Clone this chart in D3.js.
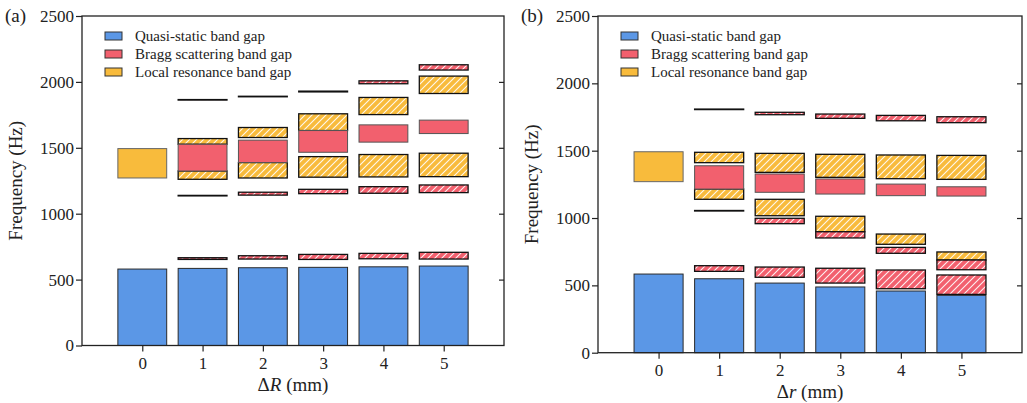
<!DOCTYPE html>
<html>
<head>
<meta charset="utf-8">
<script src="https://cdn.jsdelivr.net/npm/d3@7"></script>
<style>
  body { margin: 0; background: #fff; }
</style>
</head>
<body>
<svg id="chart" width="1027" height="403"></svg>
<script>
// ---- data (Hz) ----
const categories = [0, 1, 2, 3, 4, 5];
const yTicks = [0, 500, 1000, 1500, 2000, 2500];
const legendLabels = ['Quasi-static band gap', 'Bragg scattering band gap', 'Local resonance band gap'];

// panel (a): ΔR
const quasiA = [580, 585, 590, 593, 597, 603];
const braggA = [[1, 1324, 1527], [2, 1388, 1558], [3, 1466, 1631], [4, 1543, 1674], [5, 1608, 1710]];
const braggHatchA = [
  [1, 653, 666], [1, 1135, 1139], [1, 1862, 1866],
  [2, 656, 681], [2, 1141, 1163], [2, 1887, 1891],
  [3, 653, 691], [3, 1152, 1185], [3, 1924, 1930],
  [4, 658, 699], [4, 1155, 1205], [4, 1986, 2008],
  [5, 656, 707], [5, 1160, 1218], [5, 2090, 2130]
];
const localA = [[0, 1271, 1494]];
const localHatchA = [
  [1, 1261, 1324], [1, 1527, 1570],
  [2, 1271, 1388], [2, 1578, 1654],
  [3, 1277, 1433], [3, 1631, 1758],
  [4, 1279, 1449], [4, 1752, 1882],
  [5, 1281, 1459], [5, 1912, 2044]
];

// panel (b): Δr
const quasiB = [584, 549, 517, 488, 458, 426];
const braggB = [[1, 1215, 1388], [2, 1191, 1327], [3, 1178, 1290], [4, 1166, 1252], [5, 1163, 1232]];
const braggHatchB = [
  [1, 604, 646], [1, 1052, 1056], [1, 1805, 1809],
  [2, 560, 636], [2, 958, 998], [2, 1767, 1785],
  [3, 517, 627], [3, 852, 898], [3, 1740, 1772],
  [4, 475, 614], [4, 738, 782], [4, 1722, 1762],
  [5, 433, 577], [5, 616, 688], [5, 1708, 1752]
];
const localB = [[0, 1270, 1492]];
const localHatchB = [
  [1, 1139, 1215], [1, 1411, 1488],
  [2, 1017, 1139], [2, 1339, 1480],
  [3, 898, 1013], [3, 1302, 1473],
  [4, 805, 881], [4, 1292, 1468],
  [5, 688, 748], [5, 1287, 1465]
];

const BLUE = '#5b97e6', RED = '#f2606e', YELLOW = '#f8bb3c';
const FONT = '"Liberation Serif", "DejaVu Serif", "Times New Roman", serif';

const svg = d3.select('#chart');
const defs = svg.append('defs');

// white diagonal hatch over a fill colour
[['hatch-red', RED], ['hatch-yellow', YELLOW]].forEach(([id, col]) => {
  const p = defs.append('pattern')
    .attr('id', id)
    .attr('patternUnits', 'userSpaceOnUse')
    .attr('width', 7).attr('height', 7);
  p.append('rect').attr('width', 7).attr('height', 7).attr('fill', col);
  p.append('path')
    .attr('d', 'M-1,8 L8,-1 M-2,2 L2,-2 M5,9 L9,5')
    .attr('stroke', '#fff').attr('stroke-width', 1.1).attr('opacity', 0.9);
});

function drawPanel(cfg) {
  const { left, top, width, height, tag, xLabel, quasi, bragg, braggHatch, local, localHatch, legendX } = cfg;

  const g = svg.append('g').attr('transform', `translate(${left},${top})`);

  const x = d3.scaleLinear().domain([-1, 6]).range([0, width]);
  const y = d3.scaleLinear().domain([0, 2500]).range([height, 0]);
  const bw = x(0.81) - x(0);

  // quasi-static bars
  g.selectAll('.quasi').data(quasi).enter().append('rect')
    .attr('x', (d, i) => x(categories[i]) - bw / 2)
    .attr('y', d => y(d))
    .attr('width', bw)
    .attr('height', d => y(0) - y(d))
    .attr('fill', BLUE)
    .attr('stroke', '#2a2a2a').attr('stroke-width', 1);

  const gap = (data, fill, stroke, sw) => {
    g.append('g').selectAll('rect').data(data).enter().append('rect')
      .attr('x', d => x(d[0]) - bw / 2)
      .attr('y', d => y(d[2]))
      .attr('width', bw)
      .attr('height', d => y(d[1]) - y(d[2]))
      .attr('fill', fill)
      .attr('stroke', stroke).attr('stroke-width', sw);
  };
  gap(local, YELLOW, '#666', 1);
  gap(localHatch, 'url(#hatch-yellow)', '#111', 1.3);
  gap(bragg, RED, '#555', 1);
  gap(braggHatch, 'url(#hatch-red)', '#111', 1.3);

  // frame
  g.append('rect')
    .attr('width', width).attr('height', height)
    .attr('fill', 'none').attr('stroke', '#222').attr('stroke-width', 1.3);

  // axes
  const yAxisG = g.append('g')
    .call(d3.axisLeft(y).tickValues(yTicks).tickFormat(d3.format('d'))
      .tickSize(6).tickSizeOuter(0).tickPadding(2));
  yAxisG.select('.domain').remove();

  const yRightG = g.append('g')
    .attr('transform', `translate(${width},0)`)
    .call(d3.axisLeft(y).tickValues([500, 1000, 1500, 2000]).tickSize(5).tickFormat(''));
  yRightG.select('.domain').remove();

  const xAxisG = g.append('g')
    .attr('transform', `translate(0,${height})`)
    .call(d3.axisBottom(x).tickValues(categories).tickFormat(d3.format('d'))
      .tickSize(6).tickSizeOuter(0).tickPadding(5));
  xAxisG.select('.domain').remove();

  g.selectAll('.tick text')
    .attr('font-family', FONT).attr('font-size', 17).attr('fill', '#222');
  g.selectAll('.tick line').attr('stroke', '#222').attr('stroke-width', 1.2);

  // axis titles
  g.append('text')
    .attr('transform', `translate(${-60},${height / 2}) rotate(-90)`)
    .attr('text-anchor', 'middle')
    .attr('font-family', FONT)
    .attr('font-size', 19)
    .attr('fill', '#222')
    .text('Frequency (Hz)');

  const xt = g.append('text')
    .attr('x', x(2.5))
    .attr('y', height + 45)
    .attr('text-anchor', 'middle')
    .attr('font-family', FONT)
    .attr('font-size', 19)
    .attr('fill', '#222');
  xt.append('tspan').text('Δ');
  xt.append('tspan').attr('font-style', 'italic').text(xLabel);
  xt.append('tspan').text(' (mm)');

  g.append('text')
    .attr('x', -77)
    .attr('y', 6)
    .attr('font-family', FONT)
    .attr('font-size', 19)
    .attr('fill', '#222')
    .text(tag);

  // legend
  const cols = [BLUE, RED, YELLOW];
  const leg = g.append('g').attr('transform', `translate(${legendX},20)`);
  const row = leg.selectAll('g').data(legendLabels).enter().append('g')
    .attr('transform', (d, i) => `translate(0,${i * 18})`);
  row.append('rect')
    .attr('x', 0).attr('y', -4)
    .attr('width', 17).attr('height', 8)
    .attr('fill', (d, i) => cols[i])
    .attr('stroke', '#333').attr('stroke-width', 1);
  row.append('text')
    .attr('x', 30).attr('dy', '0.33em')
    .attr('font-family', FONT)
    .attr('font-size', 15)
    .attr('fill', '#222')
    .text(d => d);
}

drawPanel({
  left: 82, top: 16, width: 422, height: 329.5, tag: '(a)', xLabel: 'R',
  quasi: quasiA, bragg: braggA, braggHatch: braggHatchA, local: localA, localHatch: localHatchA,
  legendX: 23
});

drawPanel({
  left: 598, top: 16, width: 424, height: 336.7, tag: '(b)', xLabel: 'r',
  quasi: quasiB, bragg: braggB, braggHatch: braggHatchB, local: localB, localHatch: localHatchB,
  legendX: 23
});
</script>
</body>
</html>
